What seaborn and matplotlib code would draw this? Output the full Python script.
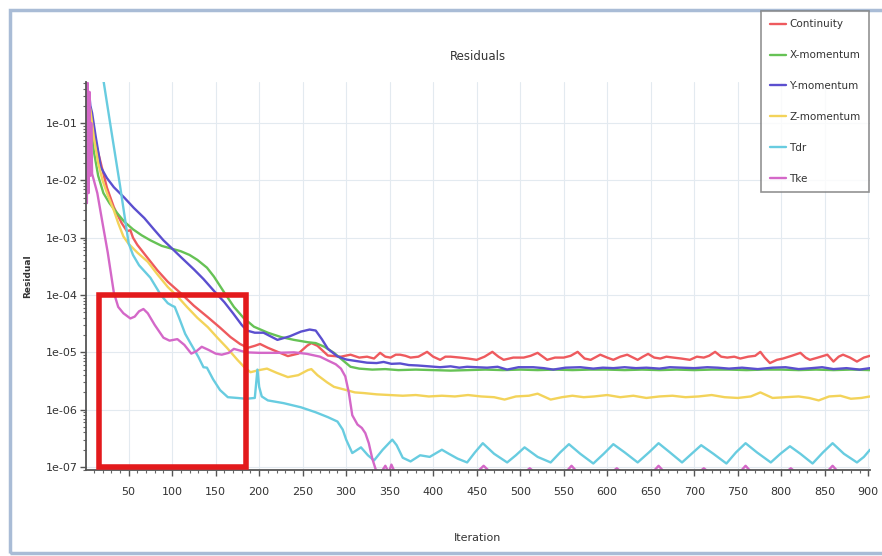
import numpy as np
import pandas as pd
import matplotlib
matplotlib.use("Agg")
import matplotlib.pyplot as plt
import seaborn as sns
from matplotlib.patches import Rectangle
from matplotlib.ticker import FixedLocator, MultipleLocator, LogLocator, FuncFormatter, NullFormatter

# ---------------- data ----------------
series_names = ["Continuity", "X-momentum", "Y-momentum", "Z-momentum", "Tdr", "Tke"]
series_colors = ["#ee5a5e", "#66c255", "#5b4fcf", "#f3d35a", "#68cce0", "#d468c8"]

cont_iter = [1, 3, 6, 10, 14, 18, 25, 33, 42, 48, 52, 55, 60, 70, 83, 95, 110, 125, 141, 155, 167, 178, 187,
             195, 201, 210, 224, 233, 245, 255, 260, 267, 279, 294,
             305, 315, 324, 332, 339, 345, 351, 357, 362, 368, 374, 383, 393, 400, 408, 414, 420, 431, 440, 450,
             459, 468, 475, 481, 492, 504, 512, 520, 531, 540, 550, 558, 566, 574, 581, 592, 600, 607, 615, 623,
             635, 641, 647, 654, 661, 668, 676, 685, 695, 703, 711, 717, 724, 731, 738, 746, 753, 762, 770, 776,
             781, 787, 795, 802, 812, 822, 828, 833, 842, 853, 860, 866, 871, 879, 887, 895, 902]
cont_val = [0.5, 0.35, 0.15, 0.06, 0.035, 0.02, 7.5e-3, 3.4e-3, 1.8e-3, 1.3e-3, 1.35e-3, 1.0e-3, 7.5e-4, 4.8e-4,
            2.7e-4, 1.7e-4, 1.07e-4, 6.5e-5, 4.1e-5, 2.7e-5, 1.85e-5, 1.4e-5, 1.2e-5,
            1.3e-5, 1.4e-5, 1.2e-5, 9.8e-6, 8.6e-6, 9.5e-6, 1.3e-5, 1.45e-5, 1.3e-5, 8.8e-6, 8.4e-6,
            9.1e-6, 8.1e-6, 8.4e-6, 7.8e-6, 9.8e-6, 8.4e-6, 8.1e-6, 9.1e-6, 9.1e-6, 8.7e-6, 8.1e-6, 8.4e-6,
            1.02e-5, 8.4e-6, 7.4e-6, 8.4e-6, 8.4e-6, 8.1e-6, 7.8e-6, 7.4e-6,
            8.4e-6, 1.02e-5, 8.4e-6, 7.4e-6, 8.1e-6, 8.1e-6, 8.7e-6, 9.8e-6, 7.4e-6, 8.1e-6, 8.1e-6, 8.7e-6,
            1.02e-5, 7.8e-6, 7.4e-6, 9.1e-6, 8.1e-6, 7.4e-6, 8.4e-6, 9.1e-6,
            7.4e-6, 8.4e-6, 9.4e-6, 8.1e-6, 7.8e-6, 8.4e-6, 8.1e-6, 7.8e-6, 7.4e-6, 8.4e-6, 8.1e-6, 8.7e-6,
            1.02e-5, 8.4e-6, 8.1e-6, 8.4e-6, 7.8e-6, 8.4e-6, 8.7e-6, 1.02e-5,
            8.1e-6, 6.5e-6, 7.4e-6, 7.8e-6, 8.7e-6, 9.8e-6, 8.1e-6, 7.4e-6, 8.1e-6, 9.1e-6, 6.9e-6, 8.4e-6,
            9.1e-6, 8.1e-6, 6.9e-6, 8.1e-6, 8.7e-6]

xmom_iter = [1, 4, 7, 10, 15, 21, 28, 35, 45, 55, 65, 75, 88, 100, 110, 120, 129, 140, 148, 160, 171, 182, 194,
             210, 225, 240, 256, 265, 275, 286, 295, 305, 315, 330, 345, 360, 380, 400, 420, 440, 460, 480, 500,
             520, 540, 560, 580, 600, 620, 640, 660, 680, 700, 720, 740, 760, 780, 800, 820, 840, 860, 880, 902]
xmom_val = [0.45, 0.22, 0.08, 0.032, 0.012, 6e-3, 4e-3, 2.9e-3, 1.9e-3, 1.4e-3, 1.1e-3, 9e-4, 7.2e-4, 6.4e-4,
            5.8e-4, 5.0e-4, 4.1e-4, 3.0e-4, 2.1e-4, 1.1e-4, 6.2e-5, 4.0e-5, 2.8e-5,
            2.2e-5, 1.85e-5, 1.65e-5, 1.5e-5, 1.45e-5, 1.25e-5, 9.8e-6, 7.5e-6, 5.6e-6, 5.2e-6, 5.0e-6, 5.1e-6,
            4.9e-6, 5.0e-6, 4.9e-6, 4.8e-6, 4.9e-6, 5.0e-6, 4.9e-6, 5.0e-6,
            4.9e-6, 5.0e-6, 4.9e-6, 5.0e-6, 5.0e-6, 4.9e-6, 5.0e-6, 4.9e-6, 5.0e-6, 4.9e-6, 5.0e-6, 5.0e-6,
            4.9e-6, 5.0e-6, 5.0e-6, 4.9e-6, 5.0e-6, 4.9e-6, 5.0e-6, 4.9e-6]

ymom_iter = [1, 2, 3, 4, 5, 6, 8, 12, 18, 25, 33, 45, 56, 68, 79, 90, 98, 110, 125, 136, 147, 160, 170, 180,
             186, 195, 205, 221, 235, 248, 258, 265, 272, 279, 290, 300, 313,
             324, 335, 343, 352, 362, 372, 382, 395, 408, 420, 430, 439, 450, 462, 474, 485, 498, 515, 527, 538,
             552, 569, 584, 595, 607, 620, 633, 645, 660, 672, 686, 700, 715, 727, 740, 755, 773, 790, 805, 820,
             835, 847, 860, 875, 890, 902]
ymom_val = [0.5, 0.02, 0.45, 0.03, 0.3, 0.2, 0.15, 0.06, 0.017, 0.011, 7.6e-3, 5e-3, 3.3e-3, 2.2e-3, 1.4e-3,
            9e-4, 6.9e-4, 4.6e-4, 2.8e-4, 1.9e-4, 1.23e-4, 7.5e-5, 4.8e-5, 3.0e-5,
            2.4e-5, 2.2e-5, 2.2e-5, 1.65e-5, 1.9e-5, 2.3e-5, 2.5e-5, 2.4e-5, 1.7e-5, 1.15e-5, 8.5e-6, 7.5e-6, 7.0e-6,
            6.6e-6, 6.5e-6, 6.8e-6, 6.3e-6, 6.4e-6, 6.0e-6, 5.9e-6, 5.7e-6, 5.5e-6, 5.7e-6, 5.4e-6, 5.6e-6,
            5.5e-6, 5.4e-6, 5.6e-6, 5.0e-6, 5.5e-6, 5.5e-6, 5.3e-6, 5.0e-6,
            5.4e-6, 5.5e-6, 5.2e-6, 5.4e-6, 5.3e-6, 5.5e-6, 5.3e-6, 5.4e-6, 5.2e-6, 5.5e-6, 5.4e-6, 5.3e-6,
            5.5e-6, 5.4e-6, 5.2e-6, 5.4e-6, 5.1e-6, 5.4e-6, 5.5e-6, 5.1e-6,
            5.3e-6, 5.5e-6, 5.1e-6, 5.3e-6, 5.0e-6, 5.3e-6]

zmom_iter = [1, 3, 6, 10, 15, 20, 26, 33, 38, 44, 50, 60, 72, 83, 95, 106, 117, 129, 141, 152, 163, 175, 183,
             190, 200, 209, 220, 233, 245, 256, 260, 267, 278, 286, 300, 310, 320, 335, 350, 365, 380, 395, 410,
             425, 440, 455, 470, 482, 495, 510, 520, 535, 548, 560, 573, 585, 600, 615, 630, 645, 660, 675, 690,
             705, 720, 735, 750, 765, 776, 790, 805, 820, 832, 843, 855, 868, 880, 892, 902]
zmom_val = [0.5, 0.3, 0.17, 0.057, 0.02, 0.01, 5.5e-3, 3.0e-3, 1.8e-3, 1.05e-3, 7.8e-4, 5.5e-4, 3.8e-4, 2.3e-4,
            1.38e-4, 9.5e-5, 6.2e-5, 4.0e-5, 2.75e-5, 1.8e-5, 1.2e-5, 7.4e-6, 5.5e-6,
            4.5e-6, 4.9e-6, 5.2e-6, 4.4e-6, 3.7e-6, 4.0e-6, 4.9e-6, 5.1e-6, 4.0e-6, 3.0e-6, 2.5e-6, 2.2e-6,
            2.0e-6, 1.95e-6, 1.85e-6, 1.8e-6, 1.75e-6, 1.8e-6, 1.7e-6, 1.75e-6,
            1.7e-6, 1.8e-6, 1.7e-6, 1.65e-6, 1.5e-6, 1.7e-6, 1.75e-6, 1.9e-6, 1.5e-6, 1.65e-6, 1.75e-6, 1.65e-6,
            1.7e-6, 1.8e-6, 1.65e-6, 1.75e-6, 1.6e-6, 1.7e-6, 1.75e-6, 1.65e-6,
            1.7e-6, 1.8e-6, 1.65e-6, 1.6e-6, 1.7e-6, 2.0e-6, 1.6e-6, 1.65e-6, 1.7e-6, 1.6e-6, 1.45e-6, 1.7e-6,
            1.75e-6, 1.55e-6, 1.6e-6, 1.7e-6]

tdr_iter = [1, 21, 30, 40, 50, 55, 62, 75, 87, 95, 100, 103, 108, 115, 121, 130, 136, 140, 147, 155, 164, 175,
            185, 195, 198, 200, 203, 210, 228, 248, 265, 279, 290, 296, 300, 307, 317, 325, 332, 342, 353, 358,
            365, 374, 385, 396, 410, 418, 428, 439, 448, 457, 470, 485, 495, 505, 520, 535, 546, 556, 569, 584,
            596, 607, 620, 635, 648, 659, 672, 686, 697, 708, 722, 737, 748, 759, 772, 788, 799, 810, 822, 836,
            848, 859, 872, 887, 895, 902]
tdr_val = [6.0, 0.56, 0.075, 8.3e-3, 8e-4, 5e-4, 3.3e-4, 2.0e-4, 1.0e-4, 7.2e-5, 6.5e-5, 6.2e-5, 4.0e-5, 2.1e-5,
           1.45e-5, 8.4e-6, 5.5e-6, 5.4e-6, 3.4e-6, 2.2e-6, 1.65e-6, 1.6e-6,
           1.55e-6, 1.6e-6, 5.0e-6, 2.5e-6, 1.7e-6, 1.45e-6, 1.3e-6, 1.1e-6, 9e-7, 7.4e-7, 6.2e-7, 4.5e-7, 3.0e-7,
           1.75e-7, 2.2e-7, 1.6e-7, 1.3e-7, 2.0e-7, 3.0e-7, 2.4e-7,
           1.45e-7, 1.25e-7, 1.6e-7, 1.5e-7, 2.0e-7, 1.7e-7, 1.4e-7, 1.2e-7, 1.8e-7, 2.6e-7, 1.7e-7, 1.2e-7,
           1.6e-7, 2.2e-7, 1.5e-7, 1.2e-7, 1.8e-7, 2.5e-7, 1.7e-7, 1.15e-7,
           1.7e-7, 2.5e-7, 1.8e-7, 1.2e-7, 1.8e-7, 2.6e-7, 1.8e-7, 1.2e-7, 1.7e-7, 2.4e-7, 1.7e-7, 1.15e-7,
           1.8e-7, 2.6e-7, 1.8e-7, 1.2e-7, 1.7e-7, 2.3e-7, 1.7e-7, 1.15e-7,
           1.8e-7, 2.6e-7, 1.7e-7, 1.2e-7, 1.5e-7, 2.0e-7]

tke_iter = [1, 2, 3, 4, 5, 6, 7, 8, 10, 14, 20, 26, 33, 38, 44, 52, 57, 62, 67, 72, 80, 90, 97, 106, 114, 122,
            128, 134, 142, 150, 157, 165, 171, 185, 200, 220, 240, 255, 270, 279, 288, 294, 299, 303, 307, 313,
            318, 322, 326, 330, 334, 340, 345, 349, 352, 356, 362, 450, 458, 466, 505, 511, 517, 552, 559, 566,
            605, 611, 617, 652, 659, 666, 705, 711, 717, 752, 759, 766, 805, 811, 817, 852, 859, 866, 902]
tke_val = [0.56, 4e-3, 0.5, 6e-3, 0.35, 0.012, 0.1, 0.013, 0.0101, 6e-3, 1.8e-3, 5.5e-4, 1.1e-4, 6.2e-5, 4.8e-5,
           3.9e-5, 4.2e-5, 5.2e-5, 5.7e-5, 4.8e-5, 3e-5, 1.8e-5, 1.6e-5, 1.7e-5, 1.35e-5, 9.5e-6,
           1.05e-5, 1.25e-5, 1.1e-5, 9.5e-6, 9.1e-6, 9.8e-6, 1.15e-5, 1.0e-5, 9.8e-6, 9.8e-6, 1.0e-5, 9.4e-6,
           8.4e-6, 7.2e-6, 6.2e-6, 5.2e-6, 3.8e-6, 2.0e-6, 8e-7, 5.5e-7,
           4.8e-7, 3.9e-7, 2.6e-7, 1.4e-7, 9e-8, 8e-8, 1.05e-7, 8e-8, 1.1e-7, 8e-8, 8e-8, 8e-8, 1.05e-7, 8e-8,
           8e-8, 9.5e-8, 8e-8, 8e-8, 1.05e-7, 8e-8,
           8e-8, 9.5e-8, 8e-8, 8e-8, 1.05e-7, 8e-8, 8e-8, 9.5e-8, 8e-8, 8e-8, 1.05e-7, 8e-8, 8e-8, 9.5e-8, 8e-8,
           8e-8, 1.05e-7, 8e-8, 8e-8]

x_ticks = list(range(50, 901, 50))
y_ticks = [1e-1, 1e-2, 1e-3, 1e-4, 1e-5, 1e-6, 1e-7]
highlight_x = [16, 185]
highlight_y = [1e-7, 1e-4]

# ---------------- build long table ----------------
frames = []
for name, it, val in [("Continuity", cont_iter, cont_val), ("X-momentum", xmom_iter, xmom_val),
                      ("Y-momentum", ymom_iter, ymom_val), ("Z-momentum", zmom_iter, zmom_val),
                      ("Tdr", tdr_iter, tdr_val), ("Tke", tke_iter, tke_val)]:
    frames.append(pd.DataFrame({"Iteration": it, "Residual": val, "Series": name}))
df = pd.concat(frames, ignore_index=True)

# ---------------- plotting ----------------
sns.set_style("whitegrid")
plt.rcParams["font.family"] = ["Liberation Sans Narrow", "DejaVu Sans"]

fig = plt.figure(figsize=(8.82, 5.56), dpi=100)
fig.patch.set_facecolor("white")
ax = fig.add_axes([86 / 882, 1 - 470 / 556, (870 - 86) / 882, (470 - 82) / 556])

sns.lineplot(data=df, x="Iteration", y="Residual", hue="Series", hue_order=series_names,
             palette=dict(zip(series_names, series_colors)), estimator=None, sort=False,
             linewidth=1.7, ax=ax)

ax.set_yscale("log")
ax.set_xlim(1, 902)
ax.set_ylim(8.86e-8, 0.52)

ax.xaxis.set_major_locator(FixedLocator(x_ticks))
ax.xaxis.set_minor_locator(MultipleLocator(10))
ax.yaxis.set_major_locator(FixedLocator(y_ticks))
ax.yaxis.set_minor_locator(LogLocator(base=10, subs=np.arange(2, 10)))
ax.yaxis.set_minor_formatter(NullFormatter())
ax.yaxis.set_major_formatter(FuncFormatter(lambda v, p: f"{v:.0e}"))

ax.grid(True, which="major", color="#e3eaf0", linewidth=0.8)
ax.grid(False, which="minor")
for s in ["top", "right"]:
    ax.spines[s].set_visible(False)
for s in ["left", "bottom"]:
    ax.spines[s].set_visible(True)
    ax.spines[s].set_color("#555555")
    ax.spines[s].set_linewidth(1.3)

ax.tick_params(axis="both", which="both", bottom=True, left=True, top=False, right=False)
ax.tick_params(axis="both", which="major", direction="out", length=4, width=1, color="#555555",
               labelsize=8, labelcolor="#333333")
ax.tick_params(axis="both", which="minor", direction="out", length=2.5, width=0.8, color="#666666")
ax.tick_params(axis="x", which="major", pad=8)
ax.tick_params(axis="y", which="major", pad=2)

ax.set_title("Residuals", fontsize=8.5, color="#333333", pad=16)
ax.set_xlabel("Iteration", fontsize=8, color="#333333", labelpad=26)
ax.set_ylabel("Residual", fontsize=6.5, color="#333333", fontweight="bold", labelpad=10)

# highlight box
rect = Rectangle((highlight_x[0], highlight_y[0]), highlight_x[1] - highlight_x[0],
                 highlight_y[1] - highlight_y[0], fill=False, edgecolor="#e31a1c",
                 linewidth=4, zorder=10, clip_on=False)
ax.add_patch(rect)

# legend
handles, labels = ax.get_legend_handles_labels()
ax.get_legend().remove()
leg = fig.legend(handles, labels, loc="upper right", bbox_to_anchor=(869 / 882, 1 - 11 / 556),
                 fontsize=7.5, frameon=True, fancybox=False, shadow=False, handlelength=1.6,
                 handletextpad=0.3, labelspacing=2.0, borderpad=0.8, borderaxespad=0.0)
leg.get_frame().set_edgecolor("#777777")
leg.get_frame().set_linewidth(1.2)
for t in leg.get_texts():
    t.set_color("#333333")

# outer frame
fig.patches.append(Rectangle((10 / 882, 3 / 556), 1.0, 1 - 13 / 556, transform=fig.transFigure,
                             fill=False, edgecolor="#a9bcd6", linewidth=2.5, figure=fig))

fig.savefig("out.png", dpi=100, facecolor="white")
